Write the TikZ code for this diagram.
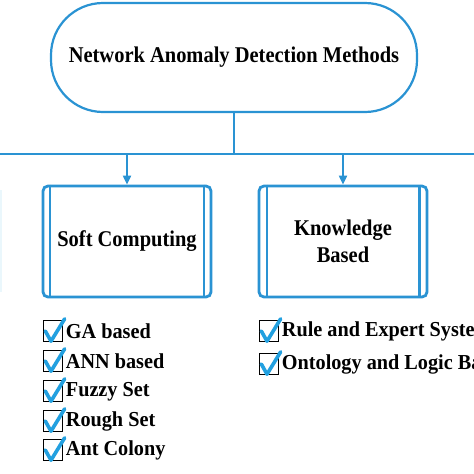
\documentclass[tikz,border=0pt]{standalone}
\usepackage{fontspec}
\setmainfont{Liberation Serif}
\newfontfamily\headfont[FakeStretch=0.91]{Liberation Serif}
\newfontfamily\itemfont[FakeStretch=0.95]{Liberation Serif}
\usetikzlibrary{calc,arrows.meta}
\definecolor{lineblue}{HTML}{2A93D3}
\definecolor{tickblue}{HTML}{22A0E0}
\definecolor{faintblue}{HTML}{EAF7FC}
\tikzset{
  title/.style={draw=lineblue, line width=2.2pt, rounded corners=52pt, minimum width=366pt, minimum height=109pt, font=\headfont\fontsize{22.5}{24}\selectfont\bfseries, inner sep=0pt},
  catbox/.style={draw=lineblue, line width=2.8pt, rounded corners=5pt, minimum width=168pt, minimum height=111pt, font=\headfont\fontsize{22.5}{27}\selectfont\bfseries, align=center, inner sep=0pt},
  conn/.style={draw=lineblue, line width=2pt},
  arr/.style={conn, -{Triangle[length=9pt,width=8pt]}},
  item/.style={anchor=west, font=\itemfont\fontsize{21.3}{22}\selectfont\bfseries, inner sep=0pt},
  chkbox/.style={draw=black, line width=1.4pt, minimum width=19pt, minimum height=21pt, inner sep=0pt},
  tick/.style={draw=tickblue, line width=3.6pt, line cap=round, line join=round}
}
\newcommand{\chkitem}[4]{% name, x, y, text
  \node[chkbox] (#1b) at (#2,#3) {};
  \draw[tick] ($(#1b.west)+(2.5,0)$) -- ($(#1b.south)+(-2,-1)$) -- ($(#1b.north east)+(1.5,-1)$);
  \node[item] (#1) at ($(#1b.east)+(2.5,0.5)$) {#4};
}
\begin{document}
\begin{tikzpicture}[x=1pt,y=-1pt]
\useasboundingbox (0,0) rectangle (474,474);
\clip (0,0) rectangle (474,474);
\fill[white] (0,0) rectangle (474,474);
% faint partial edge at left
\draw[faintblue, line width=2pt] (1,190) -- (1,292);
\node[title] (top) at (234,57.5) {Network Anomaly Detection Methods};
\coordinate (bus) at (234,154);
\coordinate (busL) at (0,154);
\coordinate (busR) at (474,154);
\draw[conn] (top.south) -- (bus);
\draw[conn] (busL) -- (busR);
\node[catbox] (soft) at (127,241.5) {Soft Computing};
\node[catbox] (know) at (343,241.5) {Knowledge\\Based};
\draw[lineblue, line width=2.2pt] ($(soft.north west)+(8.5,0)$) -- ($(soft.south west)+(8.5,0)$);
\draw[lineblue, line width=2.2pt] ($(soft.north east)+(-8.5,0)$) -- ($(soft.south east)+(-8.5,0)$);
\draw[lineblue, line width=2.2pt] ($(know.north west)+(9,0)$) -- ($(know.south west)+(9,0)$);
\draw[lineblue, line width=2.2pt] ($(know.north east)+(-9,0)$) -- ($(know.south east)+(-9,0)$);
\coordinate (softin) at (127,154);
\coordinate (knowin) at (343,154);
\draw[arr] (softin) -- (soft.north);
\draw[arr] (knowin) -- (know.north);
\chkitem{ga}{53}{331}{GA based}
\chkitem{ann}{53}{361}{ANN based}
\chkitem{fuzzy}{53}{391}{Fuzzy Set}
\chkitem{rough}{53}{421}{Rough Set}
\chkitem{ant}{53}{450}{Ant Colony}
\chkitem{rule}{269}{331}{Rule and Expert Systems}
\chkitem{onto}{269}{364}{Ontology and Logic Based}
\end{tikzpicture}
\end{document}
